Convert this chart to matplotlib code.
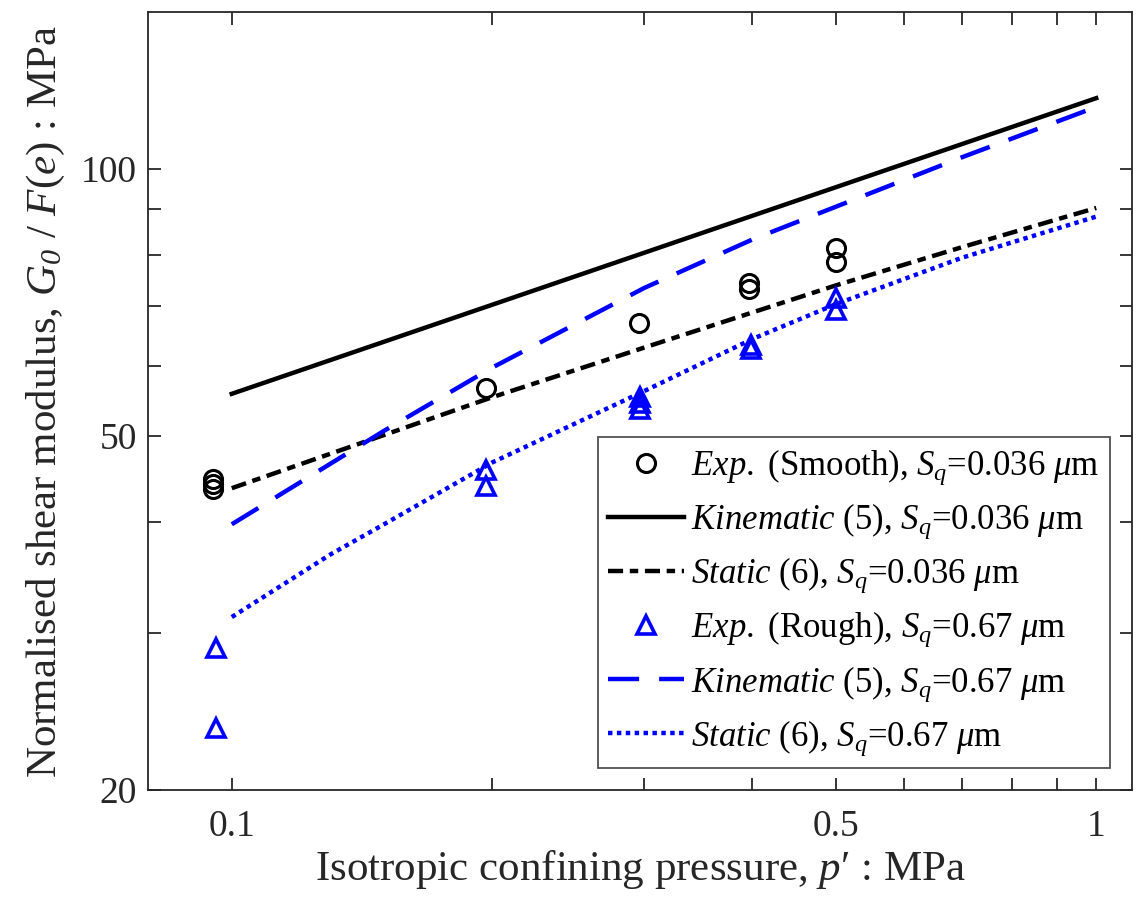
import matplotlib
matplotlib.use("Agg")
import matplotlib.pyplot as plt
from matplotlib.ticker import FixedLocator, NullFormatter

plt.rcParams['font.family'] = ['Liberation Serif', 'DejaVu Serif']
plt.rcParams['mathtext.fontset'] = 'custom'
plt.rcParams['mathtext.rm'] = 'Liberation Serif'
plt.rcParams['mathtext.it'] = 'Liberation Serif:italic'
plt.rcParams['mathtext.bf'] = 'Liberation Serif:bold'
plt.rcParams['mathtext.sf'] = 'Liberation Serif:italic'

# Experimental data (Smooth, Sq = 0.036 um)
smooth_p = [0.095, 0.095, 0.095, 0.197, 0.296, 0.397, 0.397, 0.5, 0.5]
smooth_G = [44.8, 44.2, 43.6, 56.7, 67.0, 74.3, 73.2, 81.4, 78.6]

# Experimental data (Rough, Sq = 0.67 um)
rough_p = [0.096, 0.096, 0.197, 0.197, 0.297, 0.297, 0.297, 0.399, 0.399, 0.5, 0.5]
rough_G = [28.9, 23.5, 45.8, 43.9, 55.4, 54.5, 53.7, 63.4, 62.7, 71.5, 69.4]

# Model curves
kin_s_p = [0.1, 1.0]
kin_s_G = [55.8, 120.0]

sta_s_p = [0.1, 0.2, 0.3, 0.5, 0.7, 1.0]
sta_s_G = [43.7, 55.3, 62.9, 73.9, 81.6, 90.3]

kin_r_p = [0.1, 0.15, 0.2, 0.3, 0.4, 0.5, 0.7, 1.0]
kin_r_G = [39.8, 50.7, 59.7, 73.4, 83.2, 90.6, 103.0, 117.3]

sta_r_p = [0.1, 0.13, 0.15, 0.2, 0.3, 0.4, 0.5, 0.7, 1.0]
sta_r_G = [31.3, 36.8, 39.8, 46.7, 56.2, 64.3, 70.4, 79.4, 88.3]

xticks = [0.1, 0.5, 1]
xticklabels = ['0.1', '0.5', '1']
xminor = [0.2, 0.3, 0.4, 0.6, 0.7, 0.8, 0.9]
yticks = [20, 50, 100]
yticklabels = ['20', '50', '100']
yminor = [30, 40, 60, 70, 80, 90]

blue = (0, 0, 1)
fig = plt.figure(figsize=(11.39, 8.98), dpi=100)
ax = fig.add_axes([148/1139, 1 - 790/898, (1132-148)/1139, (790-12)/898])

ax.plot(smooth_p, smooth_G, linestyle='none', marker='o', markersize=13,
        markerfacecolor='none', markeredgecolor='k', markeredgewidth=2.2,
        label=r'$\it{Exp.}$ (Smooth), $S_q$=0.036 $\mu$m')
ax.plot(kin_s_p, kin_s_G, '-', color='k', lw=3.2,
        label=r'$\it{Kinematic}$ (5), $S_q$=0.036 $\mu$m')
ax.plot(sta_s_p, sta_s_G, color='k', lw=3.2, dashes=(3.4, 1.5, 1.9, 1.5),
        label=r'$\it{Static}$ (6), $S_q$=0.036 $\mu$m')
ax.plot(rough_p, rough_G, linestyle='none', marker='^', markersize=13,
        markerfacecolor='none', markeredgecolor=blue, markeredgewidth=2.6,
        label=r'$\it{Exp.}$ (Rough), $S_q$=0.67 $\mu$m')
ax.plot(kin_r_p, kin_r_G, color=blue, lw=3.2, dashes=(7.0, 4.5),
        label=r'$\it{Kinematic}$ (5), $S_q$=0.67 $\mu$m')
ax.plot(sta_r_p, sta_r_G, color=blue, lw=3.2, dashes=(1.0, 1.0),
        label=r'$\it{Static}$ (6), $S_q$=0.67 $\mu$m')

ax.set_xscale('log')
ax.set_yscale('log')
ax.set_xlim(0.08, 1.1)
ax.set_ylim(20, 150)

ax.xaxis.set_major_locator(FixedLocator(xticks))
ax.set_xticklabels(xticklabels)
ax.xaxis.set_minor_locator(FixedLocator(xminor))
ax.xaxis.set_minor_formatter(NullFormatter())
ax.yaxis.set_major_locator(FixedLocator(yticks))
ax.set_yticklabels(yticklabels)
ax.yaxis.set_minor_locator(FixedLocator(yminor))
ax.yaxis.set_minor_formatter(NullFormatter())

sp_col = (0.15, 0.15, 0.15)
for s in ax.spines.values():
    s.set_color(sp_col)
    s.set_linewidth(1.3)
ax.tick_params(which='both', direction='in', top=True, right=True,
               length=9, width=1.3, color=sp_col, labelsize=27, labelcolor=sp_col)
ax.tick_params(axis='x', pad=14)
ax.tick_params(axis='y', pad=8)

ax.set_xlabel("Isotropic confining pressure, $p$\u2032 : MPa", fontsize=31, color=sp_col, labelpad=3)
ax.set_ylabel(r"Normalised shear modulus, $G_{\mathsf{0}}$ / $F(e)$ : MPa", fontsize=31, color=sp_col, labelpad=10)

leg = ax.legend(loc='lower right', bbox_to_anchor=((1110-148)/984, 22/778),
                borderaxespad=0, fontsize=25, frameon=True, fancybox=False,
                edgecolor=sp_col, handlelength=2.2, handletextpad=0.2,
                labelspacing=0.42, borderpad=0.3)
leg.get_frame().set_linewidth(1.3)

fig.savefig('out.png', dpi=100)
